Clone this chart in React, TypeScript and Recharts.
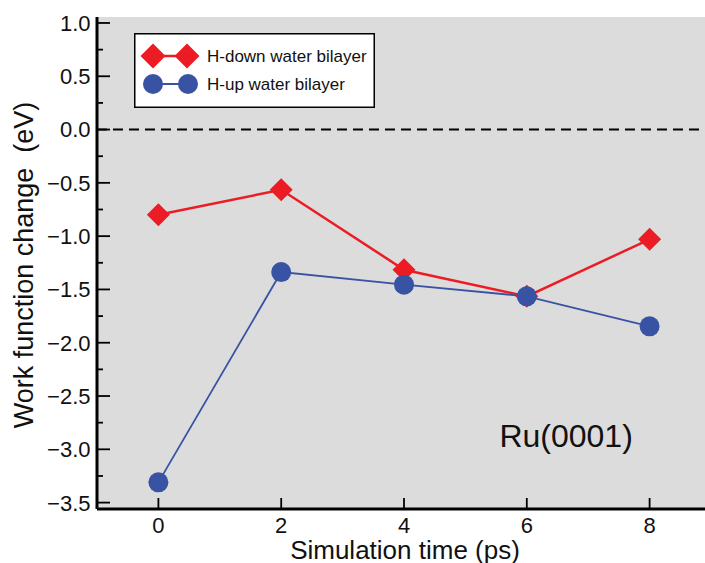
import React from 'react';
import {
  LineChart,
  Line,
  XAxis,
  YAxis,
  CartesianGrid,
  ReferenceLine,
  ReferenceDot,
  Legend,
} from 'recharts';

const times = [0, 2, 4, 6, 8];
const hDown = [-0.8, -0.565, -1.315, -1.565, -1.03];
const hUp = [-3.31, -1.337, -1.455, -1.565, -1.846];
const xTicks = [0, 2, 4, 6, 8];
const yTicks = [
  -3.5, -3.25, -3.0, -2.75, -2.5, -2.25, -2.0, -1.75, -1.5, -1.25, -1.0, -0.75,
  -0.5, -0.25, 0.0, 0.25, 0.5, 0.75, 1.0,
];
const seriesNames = ['H-down water bilayer', 'H-up water bilayer'];
const xTitle = 'Simulation time (ps)';
const yTitle = 'Work function change  (eV)';
const annotation = 'Ru(0001)';

const RED = '#ec1c24';
const BLUE = '#3953a4';
const FONT = '"Liberation Sans", Arial, Helvetica, sans-serif';
const INK = '#111';

const data = times.map((t, i) => ({ t, down: hDown[i], up: hUp[i] }));

const isMajor = (v: number) => Math.abs(v * 2 - Math.round(v * 2)) < 1e-6;
const fmt = (v: number) =>
  v < 0 ? '\u2212' + Math.abs(v).toFixed(1) : v.toFixed(1);

const LeftTick = (props: any) => {
  const { x, y, payload } = props;
  const v = payload.value;
  const major = isMajor(v);
  return (
    <g>
      <line x1={x} y1={y} x2={x + (major ? 13 : 6)} y2={y} stroke="#000" strokeWidth={1.8} />
      {major && (
        <text x={x - 6.5} y={y} dy="0.36em" textAnchor="end" fontSize={22} fontFamily={FONT} fill={INK}>
          {fmt(v)}
        </text>
      )}
    </g>
  );
};

const RightTick = (props: any) => {
  const { x, y, payload } = props;
  const major = isMajor(payload.value);
  return <line x1={x} y1={y} x2={x - (major ? 13 : 6)} y2={y} stroke="#000" strokeWidth={1.8} />;
};

const BottomTick = (props: any) => {
  const { x, y, payload } = props;
  return (
    <g>
      <line x1={x} y1={y} x2={x} y2={y - 11} stroke="#000" strokeWidth={1.8} />
      <text x={x} y={y + 24} textAnchor="middle" fontSize={22} fontFamily={FONT} fill={INK}>
        {payload.value}
      </text>
    </g>
  );
};

const TopTick = (props: any) => {
  const { x, y } = props;
  return <line x1={x} y1={y} x2={x} y2={y + 11} stroke="#000" strokeWidth={1.8} />;
};

const YTitle = () => (
  <text
    x={33}
    y={265}
    transform="rotate(-90 33 265)"
    textAnchor="middle"
    fontSize={27}
    fontFamily={FONT}
    fill={INK}
    style={{ whiteSpace: 'pre' }}
  >
    {yTitle}
  </text>
);

const XTitle = () => (
  <text x={405} y={559} textAnchor="middle" fontSize={26} fontFamily={FONT} fill={INK}>
    {xTitle}
  </text>
);

const Diamond = (props: any) => {
  const { cx, cy, index } = props;
  const h = 11.5;
  return (
    <polygon
      key={`dm-${index}`}
      points={`${cx},${cy - h} ${cx + h},${cy} ${cx},${cy + h} ${cx - h},${cy}`}
      fill={RED}
    />
  );
};

const Circle = (props: any) => {
  const { cx, cy, index } = props;
  return <circle key={`ci-${index}`} cx={cx} cy={cy} r={10} fill={BLUE} />;
};

const AnnotationShape = (props: any) => {
  const { cx, cy } = props;
  return (
    <text x={cx} y={cy} textAnchor="middle" fontSize={32} fontFamily={FONT} fill={INK}>
      {annotation}
    </text>
  );
};

const LegendBox = () => {
  const d = (cx: number, cy: number, h: number) =>
    `${cx},${cy - h} ${cx + h},${cy} ${cx},${cy + h} ${cx - h},${cy}`;
  return (
    <svg width={241} height={75} style={{ display: 'block' }}>
      <rect x={0.75} y={0.75} width={239.5} height={73.5} fill="#fff" stroke="#000" strokeWidth={1.5} />
      <line x1={19} y1={23} x2={53} y2={23} stroke={RED} strokeWidth={2.5} />
      <polygon points={d(19, 23, 12.5)} fill={RED} />
      <polygon points={d(53, 23, 12.5)} fill={RED} />
      <text x={73} y={29} fontSize={17} fontFamily={FONT} fill={INK}>
        {seriesNames[0]}
      </text>
      <line x1={19} y1={51} x2={54} y2={51} stroke={BLUE} strokeWidth={1.8} />
      <circle cx={19} cy={51} r={10} fill={BLUE} />
      <circle cx={54} cy={51} r={10} fill={BLUE} />
      <text x={73} y={57} fontSize={17} fontFamily={FONT} fill={INK}>
        {seriesNames[1]}
      </text>
    </svg>
  );
};

export default function App() {
  return (
    <div
      style={{
        position: 'absolute',
        left: 0,
        top: 0,
        width: 705,
        height: 563,
        overflow: 'hidden',
        background: '#fff',
      }}
    >
      <LineChart width={720} height={563} data={data} margin={{ top: 17, right: 9, bottom: 0, left: 0 }}>
        <CartesianGrid fill="#dcdcdc" horizontal={false} vertical={false} />
        <XAxis
          dataKey="t"
          type="number"
          domain={[-1, 9]}
          ticks={xTicks}
          height={54}
          tickSize={0}
          tickMargin={0}
          tickLine={false}
          axisLine={{ stroke: '#000', strokeWidth: 3 }}
          tick={<BottomTick />}
          label={<XTitle />}
        />
        <XAxis
          xAxisId="top"
          orientation="top"
          dataKey="t"
          type="number"
          domain={[-1, 9]}
          ticks={xTicks}
          height={0}
          tickSize={0}
          tickMargin={0}
          tickLine={false}
          axisLine={{ stroke: '#000', strokeWidth: 3 }}
          tick={<TopTick />}
        />
        <YAxis
          type="number"
          domain={[-3.56, 1.056]}
          ticks={yTicks}
          width={97}
          tickSize={0}
          tickMargin={0}
          tickLine={false}
          interval={0}
          axisLine={{ stroke: '#000', strokeWidth: 3 }}
          tick={<LeftTick />}
          label={<YTitle />}
        />
        <YAxis
          yAxisId="right"
          orientation="right"
          type="number"
          domain={[-3.56, 1.056]}
          ticks={yTicks}
          width={0}
          tickSize={0}
          tickMargin={0}
          tickLine={false}
          interval={0}
          axisLine={{ stroke: '#000', strokeWidth: 3 }}
          tick={<RightTick />}
        />
        <ReferenceLine y={0} stroke="#000" strokeWidth={2} strokeDasharray="10 6" />
        <Legend
          layout="vertical"
          align="center"
          verticalAlign="middle"
          wrapperStyle={{ left: 134, top: 33, width: 241, height: 75 }}
          content={() => <LegendBox />}
        />
        <Line
          dataKey="down"
          name={seriesNames[0]}
          stroke={RED}
          strokeWidth={2.5}
          dot={<Diamond />}
          activeDot={false}
          isAnimationActive={false}
        />
        <Line
          dataKey="up"
          name={seriesNames[1]}
          stroke={BLUE}
          strokeWidth={1.8}
          dot={<Circle />}
          activeDot={false}
          isAnimationActive={false}
        />
        <ReferenceDot x={6.64} y={-2.98} r={0} ifOverflow="visible" shape={<AnnotationShape />} />
      </LineChart>
    </div>
  );
}
